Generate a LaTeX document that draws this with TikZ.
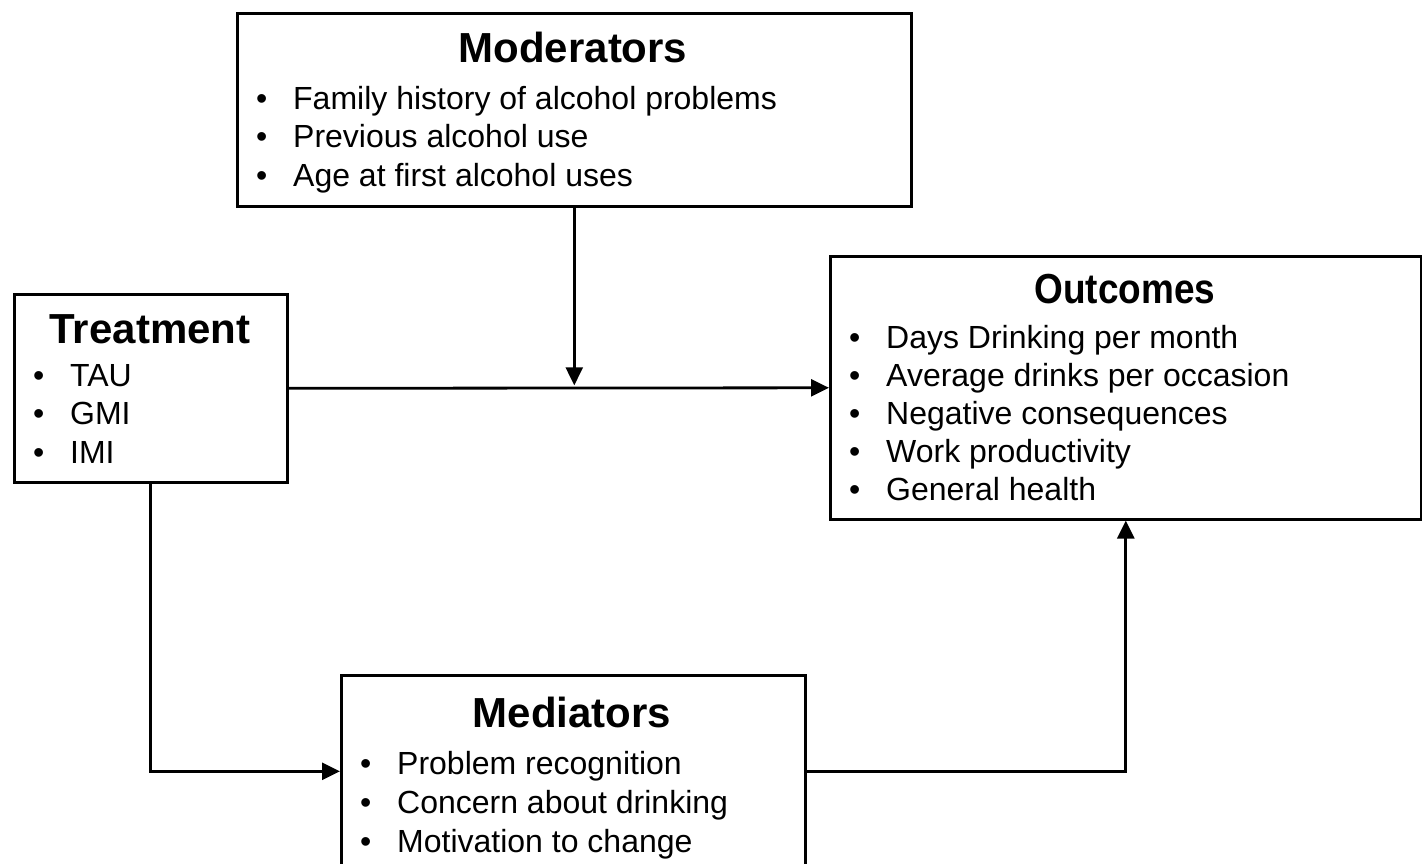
\documentclass[tikz,border=0pt]{standalone}
\usepackage{fontspec}
\setmainfont{Liberation Sans}
\usetikzlibrary{arrows.meta}
\begin{document}
\begin{tikzpicture}[x=1pt,y=-1pt,
  box/.style={draw, line width=2.6pt, inner sep=0pt, anchor=north west},
  title/.style={font=\fontsize{42}{50}\selectfont\bfseries, anchor=base, inner sep=0pt},
  item/.style={font=\fontsize{32}{38}\selectfont, anchor=base west, inner sep=0pt},
  link/.style={line width=2.8pt, -{Triangle[length=18pt,width=17pt]}}]
\useasboundingbox (0,0) rectangle (1422,864);

% boxes
\node[box, minimum width=674pt, minimum height=193pt] (mod) at (236,12) {};
\node[box, minimum width=273pt, minimum height=188pt] (tr)  at (13,293) {};
\node[box, minimum width=591pt, minimum height=263pt] (out) at (829,255) {};
\node[box, minimum width=464pt, minimum height=192pt] (med) at (340,674) {};

% titles
\node[title] (modt) at (573,63)  {Moderators};
\node[title] (trt)  at (150,343) {Treatment};
\node[title] (outt) at (1125,303) {\scalebox{0.88}[1]{Outcomes}};
\node[title] (medt) at (572,727) {Mediators};

% bullet lists
\newcommand{\bul}[1]{\makebox[37pt][l]{\textbullet}#1}
\foreach \t [count=\i] in {Family history of alcohol problems, Previous alcohol use, Age at first alcohol uses}
  \node[item] (modi\i) at (256,{110+38*(\i-1)}) {\bul{\t}};
\foreach \t [count=\i] in {TAU, GMI, IMI}
  \node[item] (tri\i) at (33,{386+38.5*(\i-1)}) {\bul{\t}};
\foreach \t [count=\i] in {Days Drinking per month, Average drinks per occasion, Negative consequences, Work productivity, General health}
  \node[item] (outi\i) at (849,{348+38*(\i-1)}) {\bul{\t}};
\foreach \t [count=\i] in {Problem recognition, Concern about drinking, Motivation to change}
  \node[item] (medi\i) at (360,{774+39*(\i-1)}) {\bul{\t}};

% connectors
\coordinate (jn) at (mod.south |- tr.east);
\draw[link] (mod.south) -- ([yshift=3pt]jn);
\draw[link] (tr.east) -- (out.west);
\draw[link] (tr.south) |- (med.west);
\draw[link] (med.east) -| (out.south);
\end{tikzpicture}
\end{document}
